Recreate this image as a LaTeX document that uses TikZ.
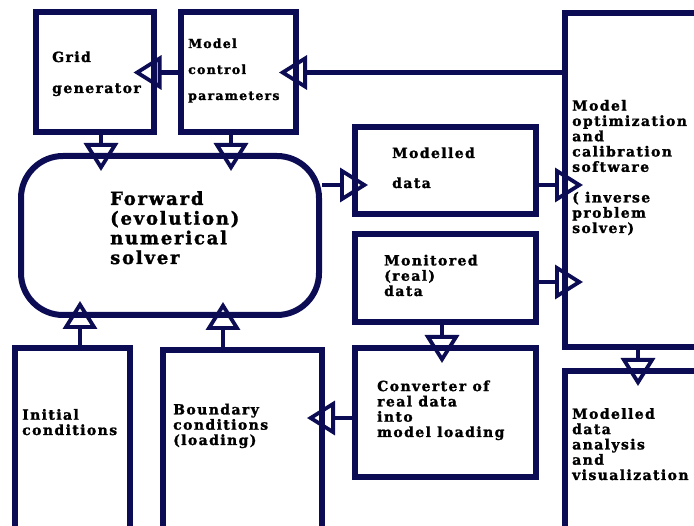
\documentclass[tikz,border=0pt]{standalone}
\usepackage{fontspec}
\usetikzlibrary{arrows.meta,calc}
\newfontfamily\lab[LetterSpace=10, BoldFeatures={FakeBold=1.5}]{DejaVu Serif}
\definecolor{navy}{RGB}{12,12,84}
\tikzset{
  box/.style={draw=navy, line width=6pt, rectangle, inner sep=0pt},
  arr/.style={draw=navy, line width=4.8pt, -{Triangle[open, length=28pt, width=34pt, line width=3.8pt]}},
  txt/.style={anchor=base west, align=left, inner sep=0pt, text=black},
  fs/.style={font=\lab\bfseries\fontsize{#1}{15.3}\selectfont},
}
\begin{document}
\begin{tikzpicture}[x=1pt,y=-1pt]
\useasboundingbox (0,0) rectangle (694,526);
\clip (0,0) rectangle (694,526);
% boxes
\node[box, minimum width=118pt, minimum height=120pt] (grid) at (94.5,72.5) {};
\node[box, minimum width=115pt, minimum height=120pt] (mcp) at (238.5,72.5) {};
\node[box, rounded corners=42pt, minimum width=298pt, minimum height=159pt] (solver) at (170,235.5) {};
\node[box, minimum width=181pt, minimum height=87pt] (moddata) at (445.5,170.5) {};
\node[box, minimum width=181pt, minimum height=88pt] (mon) at (445.5,278) {};
\node[box, minimum width=181pt, minimum height=129pt] (conv) at (445.5,412.5) {};
\node[box, minimum width=195pt, minimum height=334pt] (opt) at (662.5,180) {};
\node[box, minimum width=195pt, minimum height=229pt] (ana) at (662.5,485.5) {};
\node[box, minimum width=115pt, minimum height=252pt] (init) at (72.5,474) {};
\node[box, minimum width=159pt, minimum height=250pt] (bnd) at (242.5,475) {};
% texts (anchored at the baseline of the last line)
\node[txt, font=\lab\bfseries\fontsize{14}{31}\selectfont] (gridtxt) at (52,93) {Grid\\generator};
\node[txt, font=\lab\bfseries\fontsize{12.5}{26}\selectfont] (mcptxt) at (188,100) {Model\\control\\parameters};
\node[txt, font=\lab\bfseries\fontsize{18}{19.7}\selectfont] (soltxt) at (110,264) {Forward\\(evolution)\\numerical\\solver};
\node[txt, font=\lab\bfseries\fontsize{14}{30}\selectfont] (modtxt) at (392,188) {Modelled\\data};
\node[txt, fs=14] (opttxt) at (572,233) {Model\\optimization\\and\\calibration\\software\\[15.3pt]( inverse\\problem\\solver)};
\node[txt, fs=14] (montxt) at (384,296) {Monitored\\(real)\\data};
\node[txt, fs=14] (convtxt) at (377,437) {Converter of\\real data\\into\\model loading};
\node[txt, fs=14] (inittxt) at (22,435) {Initial\\conditions};
\node[txt, fs=14] (bndtxt) at (173,445) {Boundary\\conditions\\(loading)};
\node[txt, fs=14] (anatxt) at (572,480) {Modelled\\data\\analysis\\and\\visualization};
% connectors
\draw[arr, shorten >=-20pt] (mcp.east -| opt.west) -- (mcp.east);
\draw[arr, shorten >=-23pt] (mcp.west) -- (grid.east);
\draw[arr, shorten >=-18pt] ([xshift=6.5pt]grid.south) -- ([xshift=6.5pt]grid.south |- solver.north);
\draw[arr, shorten >=-18pt] ([xshift=-7.5pt]mcp.south) -- ([xshift=-7.5pt]mcp.south |- solver.north);
\draw[arr, shorten >=-17pt] ([xshift=7.5pt]init.north) -- ([xshift=7.5pt]init.north |- solver.south);
\draw[arr, shorten >=-16pt] ([xshift=-19.5pt]bnd.north) -- ([xshift=-19.5pt]bnd.north |- solver.south);
\draw[arr, shorten >=-16pt] ([yshift=-14.5pt]moddata.west -| solver.east) -- ([yshift=-14.5pt]moddata.west);
\draw[arr, shorten >=-21pt] ([yshift=-14.5pt]moddata.east) -- ([yshift=-14.5pt]moddata.east -| opt.west);
\draw[arr, shorten >=-21pt] ([yshift=-4pt]mon.east) -- ([yshift=-4pt]mon.east -| opt.west);
\draw[arr, shorten >=-18pt] ([xshift=-3.5pt]mon.south) -- ([xshift=-3.5pt]mon.south |- conv.north);
\draw[arr, shorten >=-18pt] ([yshift=-5.5pt]conv.west) -- ([yshift=-5.5pt]conv.west -| bnd.east);
\draw[arr, shorten >=-18pt] ([xshift=-24.5pt]opt.south) -- ([xshift=-24.5pt]opt.south |- ana.north);
\end{tikzpicture}
\end{document}
